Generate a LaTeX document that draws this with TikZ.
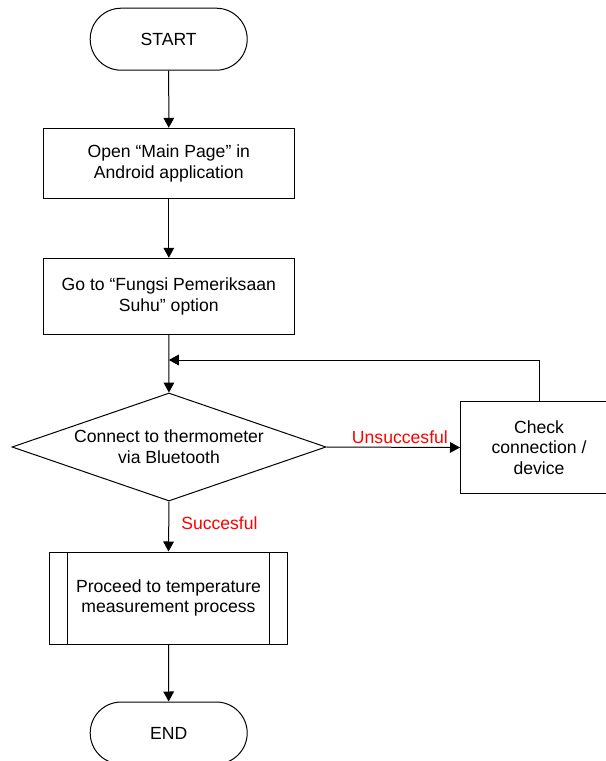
\documentclass[tikz,border=0pt]{standalone}
\usepackage{fontspec}
\setmainfont{Liberation Sans}
\usepackage{tikz}
\usetikzlibrary{shapes}
\usetikzlibrary{arrows.meta}

\begin{document}
\begin{tikzpicture}[x=0.75pt,y=-0.75pt,line width=0.75pt,
  every node/.style={font=\fontsize{13.2}{15.5}\selectfont, align=center, inner sep=0pt},
  terminal/.style={draw, rounded rectangle, minimum width=117.75pt, minimum height=46.5pt},
  proc/.style={draw, rectangle, minimum width=188.25pt},
  decide/.style={draw, diamond, aspect=2.9, minimum width=235.5pt, minimum height=81pt},
  flow/.style={-{Triangle[length=7.5pt,width=8pt]}},
  lbl/.style={text=red, inner sep=2pt}]
\useasboundingbox (0,0) rectangle (606,761);
\node [terminal] (start) at (168.7,39.2) {START};
\node [proc, minimum height=52.5pt] (open) at (168.8,163.3) {Open “Main Page” in\\Android application};
\node [proc, minimum height=57pt] (goto) at (168.8,296.3) {Go to “Fungsi Pemeriksaan\\Suhu” option};
\node [decide] (conn) at (169,447) {Connect to thermometer\\via Bluetooth};
\node [draw, minimum width=117.75pt, minimum height=69pt] (check) at (539,447.5) {Check\\connection /\\device};
\node [draw, minimum width=178.8pt, minimum height=69pt] (meas) at (168.5,598) {Proceed to temperature\\measurement process};
\node [terminal] (end) at (168.7,733) {END};
\coordinate (back) at (168.8,360);
%% predefined process sides
\draw ([xshift=14.25pt]meas.north west) -- ([xshift=14.25pt]meas.south west);
\draw ([xshift=-14.25pt]meas.north east) -- ([xshift=-14.25pt]meas.south east);
\draw [flow] (start) -- (open);
\draw [flow] (open) -- (goto);
\draw [flow] (goto) -- (conn);
\draw [flow] (conn.east) -- node[lbl, above, pos=0.55] {Unsuccesful} (check.west);
\draw [flow] (check.north) |- (back);
\draw [flow] (conn.south) -- node[lbl, right=7pt, pos=0.43] {Succesful} (meas.north);
\draw [flow] (meas) -- (end);
\end{tikzpicture}
\end{document}
